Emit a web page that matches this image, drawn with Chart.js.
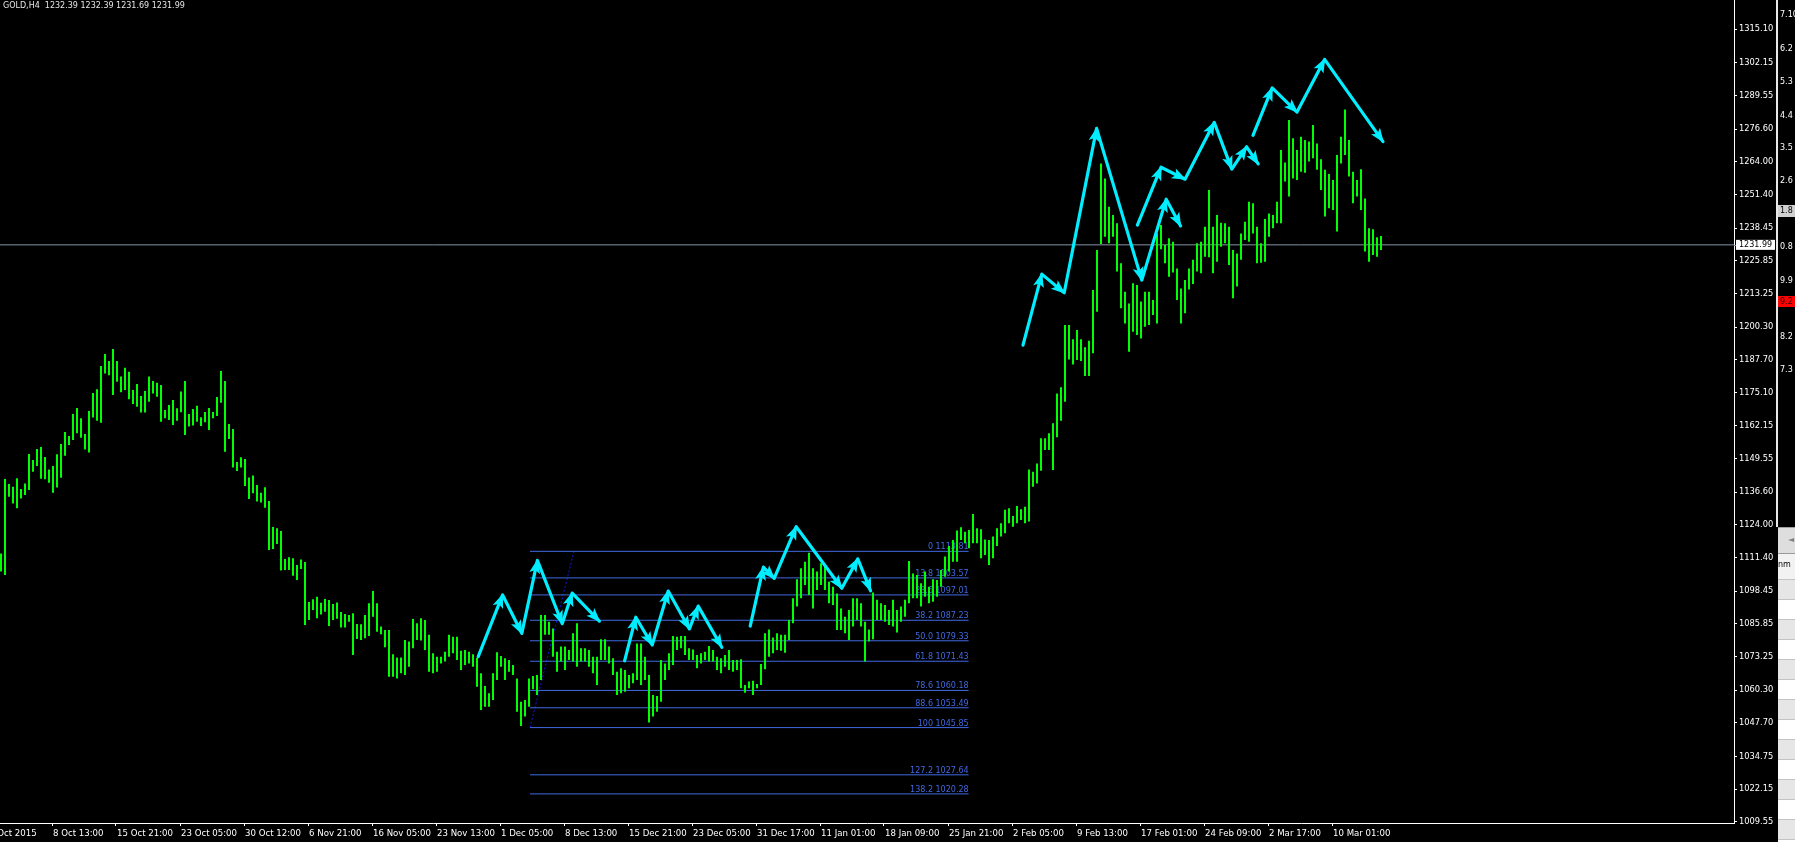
<!DOCTYPE html>
<html><head><meta charset="utf-8">
<script src="https://cdn.jsdelivr.net/npm/chart.js@4.4.1/dist/chart.umd.min.js"></script>
<style>html,body{margin:0;padding:0;background:#000;overflow:hidden}#wrap{position:relative;width:1795px;height:842px}</style>
</head><body><div id="wrap"><canvas id="c"></canvas></div>
<script>
// ---- DATA (GOLD H4, each entry = high/low of two consecutive H4 bars) ----
const barHigh = [
1113.0,1141.7,1139.8,1138.7,1142.0,1137.8,1140.0,1151.3,1149.0,1153.3,
1154.0,1150.2,1145.4,1146.7,1151.2,1155.2,1159.8,1158.3,1166.8,1169.1,
1165.1,1159.1,1167.9,1174.9,1176.3,1185.3,1189.9,1187.2,1191.8,1187.2,
1181.2,1184.6,1183.1,1176.0,1178.3,1173.7,1175.6,1181.2,1179.5,1178.8,
1177.9,1168.3,1170.2,1172.2,1169.0,1175.4,1179.5,1166.8,1168.7,1169.9,
1165.5,1167.5,1169.1,1167.5,1173.3,1183.3,1179.5,1162.9,1161.0,1148.3,
1150.1,1149.4,1142.3,1143.1,1139.4,1136.4,1138.5,1133.2,1123.2,1122.7,
1121.7,1110.9,1111.5,1111.1,1108.5,1110.7,1109.7,1094.3,1095.3,1096.3,
1094.0,1095.4,1095.0,1093.5,1094.1,1090.4,1089.6,1089.3,1089.9,1085.8,
1085.7,1089.3,1093.8,1098.5,1093.8,1084.8,1083.5,1083.5,1074.1,1072.9,
1072.9,1079.6,1079.0,1087.7,1086.1,1088.0,1087.3,1081.6,1074.5,1073.2,
1073.2,1075.1,1081.6,1080.9,1080.9,1075.5,1075.8,1075.1,1074.1,1072.8,
1066.8,1061.9,1059.1,1066.8,1074.9,1073.5,1072.6,1071.9,1070.0,1064.8,
1055.8,1056.5,1064.8,1065.7,1066.1,1089.3,1089.3,1086.7,1084.1,1075.1,
1077.1,1077.1,1075.8,1082.2,1086.1,1076.4,1076.4,1075.8,1073.2,1073.2,
1079.9,1079.9,1077.1,1072.6,1067.4,1068.7,1068.1,1066.1,1066.8,1078.3,
1078.3,1073.2,1066.1,1058.4,1058.0,1071.9,1070.6,1074.5,1081.2,1080.9,
1081.2,1081.2,1076.4,1076.0,1073.8,1074.5,1075.1,1077.3,1075.8,1073.2,
1072.6,1073.8,1075.8,1071.9,1071.9,1072.2,1062.3,1063.6,1063.9,1062.7,
1070.4,1082.2,1083.7,1080.6,1082.2,1081.6,1081.6,1087.3,1095.7,1103.0,
1107.3,1109.8,1113.3,1107.3,1106.0,1109.2,1108.9,1102.1,1100.2,1097.6,
1091.8,1088.6,1091.2,1095.7,1095.7,1093.8,1086.7,1083.7,1097.9,1095.1,
1093.8,1093.1,1091.2,1095.1,1091.2,1092.5,1095.1,1110.1,1105.3,1104.7,
1101.5,1106.0,1100.2,1103.0,1102.8,1106.6,1111.8,1115.9,1118.2,1121.8,
1123.1,1121.4,1122.0,1128.2,1122.7,1122.3,1118.4,1118.2,1119.5,1122.7,
1124.6,1129.8,1130.4,1127.4,1131.3,1130.0,1131.0,1145.4,1144.5,1147.7,
1157.4,1157.4,1159.3,1163.2,1174.7,1177.1,1201.1,1201.1,1195.6,1199.2,
1195.6,1192.5,1195.0,1214.6,1230.0,1263.4,1257.6,1246.7,1243.5,1240.3,
1224.9,1213.9,1209.4,1217.2,1216.5,1210.1,1213.9,1213.9,1210.7,1236.4,
1239.6,1231.9,1234.5,1233.2,1222.9,1215.2,1218.4,1222.9,1226.2,1232.6,
1233.2,1239.0,1253.1,1239.0,1243.5,1240.5,1240.3,1239.0,1230.0,1228.7,
1236.4,1240.9,1248.6,1248.0,1239.0,1232.6,1242.0,1244.1,1243.5,1248.6,
1268.6,1263.7,1280.1,1273.1,1268.6,1273.7,1272.4,1271.8,1278.2,1271.1,
1265.0,1260.9,1259.3,1257.0,1266.6,1273.7,1284.2,1272.4,1260.2,1257.0,
1261.1,1249.9,1238.4,1238.0,1234.9,1235.4
];
const barLow = [
1106.0,1104.7,1134.9,1132.3,1130.4,1134.2,1135.5,1137.5,1144.5,1146.7,
1141.8,1141.6,1140.3,1136.4,1138.4,1142.2,1150.7,1154.8,1156.7,1159.3,
1157.6,1153.1,1151.9,1165.4,1164.2,1163.4,1182.4,1181.7,1174.1,1179.2,
1175.2,1176.0,1172.5,1170.6,1169.6,1167.3,1167.3,1171.5,1174.7,1173.4,
1163.8,1165.1,1164.5,1162.5,1164.2,1167.4,1158.7,1161.9,1162.3,1163.8,
1162.1,1163.6,1160.6,1165.1,1166.0,1171.1,1152.2,1157.1,1146.1,1144.8,
1146.1,1139.0,1134.0,1136.2,1133.0,1132.6,1130.6,1114.3,1114.7,1116.6,
1106.4,1106.6,1106.6,1104.4,1102.8,1107.0,1085.4,1087.3,1091.2,1088.0,
1089.5,1090.5,1085.0,1087.3,1087.8,1084.4,1084.4,1086.7,1073.8,1080.0,
1079.6,1080.3,1081.2,1088.6,1082.8,1081.8,1076.8,1065.5,1065.5,1064.8,
1066.8,1066.1,1069.3,1076.4,1079.6,1079.4,1075.8,1067.4,1066.8,1067.4,
1070.6,1071.3,1073.2,1074.5,1071.9,1068.1,1070.0,1070.6,1069.3,1061.6,
1052.6,1053.9,1053.9,1056.5,1064.2,1069.3,1064.2,1067.4,1066.1,1052.0,
1046.5,1050.1,1053.9,1060.6,1058.4,1064.2,1081.6,1081.6,1073.2,1067.4,
1071.3,1068.1,1071.9,1071.3,1069.3,1071.3,1071.3,1069.3,1066.8,1062.3,
1071.9,1071.9,1070.6,1066.1,1058.4,1059.1,1059.7,1061.0,1062.9,1064.2,
1062.3,1064.2,1047.8,1050.1,1052.0,1055.8,1064.2,1068.1,1070.0,1075.8,
1076.4,1073.8,1071.9,1071.9,1068.7,1070.6,1071.9,1071.3,1071.3,1068.1,
1066.8,1069.3,1068.1,1067.4,1068.1,1061.0,1059.3,1061.0,1058.4,1061.0,
1062.3,1068.3,1073.2,1074.5,1075.8,1075.5,1074.7,1079.6,1086.1,1092.5,
1095.7,1100.8,1097.0,1091.8,1098.9,1100.8,1098.9,1093.8,1093.1,1083.5,
1083.5,1082.2,1079.6,1084.8,1087.3,1084.8,1071.3,1079.0,1079.9,1087.3,
1087.3,1086.7,1085.4,1084.8,1082.5,1086.7,1088.6,1093.8,1095.7,1095.7,
1092.5,1096.3,1093.8,1094.4,1096.3,1100.2,1104.0,1106.0,1109.8,1109.8,
1118.2,1116.9,1115.0,1116.9,1116.9,1111.1,1112.4,1108.5,1111.1,1115.9,
1119.5,1120.8,1124.6,1123.3,1124.6,1125.9,1124.6,1125.3,1138.7,1140.0,
1144.9,1152.9,1152.9,1145.2,1157.8,1164.2,1171.5,1187.8,1185.9,1187.6,
1187.2,1181.4,1181.4,1190.2,1206.2,1232.3,1235.1,1232.6,1235.1,1221.7,
1207.5,1201.7,1190.8,1198.5,1197.2,1195.9,1200.4,1201.1,1204.9,1201.7,
1230.3,1224.9,1219.7,1221.3,1210.7,1201.7,1205.6,1214.8,1216.9,1221.7,
1221.0,1227.4,1227.2,1221.0,1225.5,1231.3,1232.6,1224.2,1211.4,1215.9,
1226.2,1233.9,1233.2,1236.4,1224.9,1225.1,1225.5,1235.1,1238.4,1240.3,
1240.3,1256.4,1250.6,1257.6,1257.0,1260.2,1259.8,1264.1,1265.4,1260.9,
1253.1,1242.9,1246.1,1245.4,1237.1,1263.4,1266.6,1258.3,1248.0,1250.6,
1245.4,1229.4,1225.5,1228.1,1227.4,1230.0
];
const timeLabels = ['1 Oct 2015','8 Oct 13:00','15 Oct 21:00','23 Oct 05:00','30 Oct 12:00','6 Nov 21:00','16 Nov 05:00','23 Nov 13:00','1 Dec 05:00','8 Dec 13:00','15 Dec 21:00','23 Dec 05:00','31 Dec 17:00','11 Jan 01:00','18 Jan 09:00','25 Jan 21:00','2 Feb 05:00','9 Feb 13:00','17 Feb 01:00','24 Feb 09:00','2 Mar 17:00','10 Mar 01:00'];
const timeTickPos = [-3.25,12.75,28.75,44.75,60.75,76.75,92.75,108.75,124.75,140.75,156.75,172.75,188.75,204.75,220.75,236.75,252.75,268.75,284.75,300.75,316.75,332.75];
const priceTicks = [1315.10,1302.15,1289.55,1276.60,1264.00,1251.40,1238.45,1225.85,1213.25,1200.30,1187.70,1175.10,1162.15,1149.55,1136.60,1124.00,1111.40,1098.45,1085.85,1073.25,1060.30,1047.70,1034.75,1022.15,1009.55];
const fibLevels = ['0','13.8','23.6','38.2','50.0','61.8','78.6','88.6','100','127.2','138.2'];
const fibPrices = [1113.81,1103.57,1097.01,1087.23,1079.33,1071.43,1060.18,1053.49,1045.85,1027.64,1020.28];
const fibSpan = [132.25, 241.9];
const fibTrendX = [132.25, 143.25];
const fibTrendY = [1045.85, 1113.81];
const arrowA = [[119.3,1073.2],[125.4,1097.0],[130.2,1082.2],[134.1,1110.3],[140.3,1085.9],[142.8,1097.7],[149.6,1086.9]];
const arrowB = [[155.9,1071.6],[158.7,1088.4],[162.8,1077.7],[166.8,1098.5],[172.1,1083.9],[174.3,1092.7],[180.2,1076.8]];
const arrowC = [[187.3,1085.0],[190.6,1107.7],[193.3,1103.4],[198.8,1123.3],[210.2,1099.6],[214.2,1110.9],[217.4,1098.6]];
const arrowD = [[255.5,1193.3],[260.2,1220.7],[265.8,1213.5],[273.9,1276.9],[285.2,1218.4],[291.3,1249.6],[294.9,1239.3]];
const arrowE = [[284.1,1239.6],[290.0,1261.9],[296.0,1257.3],[303.3,1279.2],[307.7,1261.2],[311.4,1269.8],[314.3,1263.2]];
const arrowF = [[313.0,1274.2],[317.8,1292.5],[324.0,1283.2],[330.9,1303.5],[345.5,1271.8]];
const bidPrice = 1231.99;
const quoteText = 'GOLD,H4  1232.39 1232.39 1231.69 1231.99';
const sideLabels = ['7.10','6.2','5.3','4.4','3.5','2.6','1.8','0.8','9.9','9.0','8.2','7.3'];

// ---- styles ----
const FONT = '"DejaVu Sans"';
const CYAN = '#00eeff';
const FIB = '#4169e1';
Chart.defaults.font.family = FONT;
Chart.defaults.font.size = 8;
Chart.defaults.color = '#ffffff';

const X_MIN = -0.25, X_MAX = 433.25, Y_MIN = 1009.06, Y_MAX = 1326.40;

const arrowSets = [arrowA, arrowB, arrowC, arrowD, arrowE, arrowF];
const datasets = [];
datasets.push({type:'line', label:'bid', data:[{x:X_MIN,y:bidPrice},{x:X_MAX,y:bidPrice}], borderColor:'#8494a6', borderWidth:1, pointRadius:0, order:6});
fibPrices.forEach((p,k)=>datasets.push({type:'line', label:'fib'+k, data:[{x:fibSpan[0],y:p},{x:fibSpan[1],y:p}], borderColor:FIB, borderWidth:1, pointRadius:0, order:4}));
datasets.push({type:'line', label:'fibtrend', data:fibTrendX.map((x,k)=>({x, y:fibTrendY[k]})), borderColor:'#1414e6', borderWidth:1, borderDash:[2,2], pointRadius:0, order:4});
datasets.push({type:'bar', label:'GOLD', data:barHigh.map((h,i)=>({x:i, y:[barLow[i], h]})), backgroundColor:'#00ff00', borderWidth:0, barThickness:2, inflateAmount:0, grouped:false, order:2});
const arrowIdx = [];
arrowSets.forEach((a,k)=>{ arrowIdx.push(datasets.length); datasets.push({type:'line', label:'arrow'+k, data:a.map(p=>({x:p[0], y:p[1]})), borderColor:CYAN, borderWidth:3.2, borderJoinStyle:'round', borderCapStyle:'round', pointRadius:0, order:0, clip:false}); });

const fibLabelPlugin = {
  id:'fibLabels',
  beforeDatasetsDraw(chart){
    const {ctx, scales:{x,y}} = chart;
    ctx.save();
    ctx.font = '8px ' + FONT; ctx.fillStyle = FIB; ctx.textAlign = 'right'; ctx.textBaseline = 'alphabetic';
    const xr = x.getPixelForValue(fibSpan[1]);
    fibLevels.forEach((lv,k)=>{ const py = y.getPixelForValue(fibPrices[k]); ctx.fillText(lv+' '+fibPrices[k].toFixed(2), xr, py-2); });
    ctx.restore();
  }
};
const arrowHeadPlugin = {
  id:'arrowHeads',
  afterDatasetsDraw(chart){
    const ctx = chart.ctx;
    ctx.save(); ctx.fillStyle = CYAN;
    arrowIdx.forEach(di=>{
      const pts = chart.getDatasetMeta(di).data;
      for (let k=1;k<pts.length;k++){
        const a=pts[k-1], b=pts[k];
        const ang = Math.atan2(b.y-a.y, b.x-a.x);
        const L=13, W=5.5, c=Math.cos(ang), s=Math.sin(ang);
        ctx.beginPath();
        ctx.moveTo(b.x + c*1.5, b.y + s*1.5);
        ctx.lineTo(b.x - L*c + W*s, b.y - L*s - W*c);
        ctx.lineTo(b.x - L*0.75*c, b.y - L*0.75*s);
        ctx.lineTo(b.x - L*c - W*s, b.y - L*s + W*c);
        ctx.closePath(); ctx.fill();
      }
    });
    ctx.restore();
  }
};
const decorPlugin = {
  id:'decor',
  afterDraw(chart){
    const {ctx, scales:{y}} = chart;
    ctx.save();
    ctx.font = '8px ' + FONT; ctx.textBaseline = 'alphabetic'; ctx.textAlign = 'left';
    ctx.fillStyle = '#e6e6e6';
    ctx.fillText(quoteText, 3, 7.5);
    // bid price label on the axis
    const by = y.getPixelForValue(bidPrice);
    ctx.fillStyle = '#8494a6'; ctx.fillRect(1734, Math.round(by), 2, 1);
    ctx.fillStyle = '#ffffff'; ctx.fillRect(1736, by-5, 39, 10);
    ctx.fillStyle = '#000000'; ctx.textBaseline = 'middle'; ctx.fillText(bidPrice.toFixed(2), 1739, by+0.5);
    // neighbouring window edge on the right
    ctx.fillStyle = '#e8e8e8'; ctx.fillRect(1776, 0, 2, 527);
    const sideY = [15,49,82,116,148,181,211,247,281,304,337,370];
    ctx.textBaseline = 'middle';
    sideLabels.forEach((t,k)=>{
      if (k===6){ ctx.fillStyle='#d0d0d0'; ctx.fillRect(1778, sideY[k]-6, 17, 12); ctx.fillStyle='#000'; }
      else ctx.fillStyle = '#ffffff';
      ctx.fillText(t, 1780, sideY[k]);
    });
    ctx.fillStyle = '#ff0000'; ctx.fillRect(1778, 296, 17, 11);
    ctx.fillStyle = '#200000'; ctx.fillText('9.2', 1780, 301.5);
    // bottom-right panel
    ctx.fillStyle = '#f2f2f2'; ctx.fillRect(1778, 527, 17, 315);
    ctx.fillStyle = '#a0a0a0'; ctx.fillRect(1778, 527, 17, 1);
    ctx.fillStyle = '#dedede'; ctx.fillRect(1778, 528, 17, 25);
    ctx.fillStyle = '#9a9a9a'; ctx.fillRect(1778, 553, 17, 1);
    ctx.fillStyle = '#808080'; ctx.fillText('\u25C4', 1788, 540);
    ctx.fillStyle = '#000000'; ctx.fillText('nm', 1778, 565);
    let alt = false;
    for (let ry = 579; ry < 842; ry += 20){
      ctx.fillStyle = alt ? '#ffffff' : '#e6e6e6'; ctx.fillRect(1778, ry, 17, 20);
      ctx.fillStyle = '#c4c4c4'; ctx.fillRect(1778, ry, 17, 1);
      alt = !alt;
    }
    ctx.restore();
  }
};

new Chart(document.getElementById('c'), {
  type:'bar',
  data:{datasets},
  options:{
    responsive:true, maintainAspectRatio:false, animation:false, devicePixelRatio:1,
    layout:{padding:0},
    plugins:{legend:{display:false}, tooltip:{enabled:false}, title:{display:false}},
    scales:{
      x:{type:'linear', min:X_MIN, max:X_MAX, offset:false,
        grid:{drawOnChartArea:false, drawTicks:true, tickLength:3, color:'#ffffff', offset:false},
        border:{display:true, color:'#ffffff', width:1},
        ticks:{autoSkip:false, maxRotation:0, minRotation:0, align:'start', labelOffset:1, padding:3, color:'#ffffff', font:{size:8.6, family:FONT},
          callback:(v,i)=>timeLabels[i]},
        afterBuildTicks:(s)=>{ s.ticks = timeTickPos.map(v=>({value:v})); },
        afterFit:(s)=>{ s.height = 19; s.paddingLeft = 0; s.paddingRight = 0; }
      },
      y:{type:'linear', position:'right', min:Y_MIN, max:Y_MAX,
        grid:{drawOnChartArea:false, drawTicks:true, tickLength:3, color:'#ffffff'},
        border:{display:true, color:'#ffffff', width:1},
        ticks:{autoSkip:false, padding:2, color:'#ffffff', font:{size:8.3, family:FONT}, callback:(v)=>Number(v).toFixed(2)},
        afterBuildTicks:(s)=>{ s.ticks = priceTicks.map(v=>({value:v})); },
        afterFit:(s)=>{ s.width = 61; s.paddingTop = 0; s.paddingBottom = 0; }
      }
    }
  },
  plugins:[fibLabelPlugin, arrowHeadPlugin, decorPlugin]
});
</script></body></html>
